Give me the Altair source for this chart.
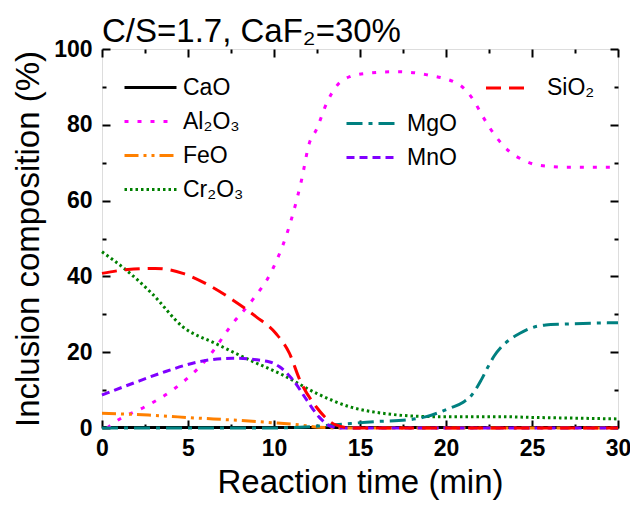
import altair as alt
import pandas as pd

FONT = "Liberation Sans"

# ---- data ----
series_names = ["CaO", "Al₂O₃", "FeO", "Cr₂O₃", "MgO", "MnO", "SiO₂"]
series_colors = ["#000000", "#FF00FF", "#FF8000", "#008000", "#008080", "#8000FF", "#FF0000"]
series_dashes = [[1, 0], [4, 9], [14, 5, 3, 5, 3, 5], [2.5, 3], [16, 6, 4, 6], [8, 5], [15, 8]]

t_cao = [0, 5, 10, 15, 20, 25, 30]
v_cao = [0.1, 0.1, 0.1, 0.1, 0.1, 0.1, 0.1]

t_al2o3 = [0.3, 0.8, 2.5, 4.1, 6.2, 7.6, 8.75, 9.9, 11.0, 11.6, 12.05, 12.45, 13.1, 13.6, 14.4,
           15.4, 17.2, 19.0, 20.8, 21.6, 22.15, 22.9, 23.7, 24.5, 25.3, 27.0, 30.0]
v_al2o3 = [0.0, 1.7, 5.6, 10.0, 18.8, 27.6, 33.8, 41.7, 54.9, 65.4, 75.1, 78.6, 86.1, 90.0, 92.7,
           93.6, 94.0, 93.1, 90.5, 86.5, 82.1, 76.9, 72.9, 70.7, 69.4, 68.8, 68.8]

t_feo = [0, 2.7, 5.6, 7.6, 9.9, 11.5, 12.6, 14, 20, 30]
v_feo = [3.9, 3.4, 2.6, 2.1, 1.4, 0.8, 0.2, 0.0, 0.0, 0.0]

t_cr2o3 = [0, 1.4, 2.9, 4.7, 6.6, 8.6, 10.5, 12.45, 14.4, 16.3, 19.2, 23.1, 25, 27.5, 30]
v_cr2o3 = [46.5, 41.7, 35.5, 26.7, 22.3, 17.9, 14.0, 9.2, 5.6, 3.9, 3.0, 3.0, 2.8, 2.6, 2.4]

t_mgo = [0, 5, 10, 11.5, 13.4, 15.9, 17.7, 18.85, 20.2, 21.0, 21.5, 22.05, 22.45, 22.8, 23.2,
         23.7, 24.3, 24.9, 25.8, 26.8, 30]
v_mgo = [0.0, 0.0, 0.0, 0.2, 0.8, 1.7, 2.1, 3.0, 5.2, 6.8, 8.7, 12.7, 16.2, 19.0, 21.3,
         23.3, 25.0, 26.3, 27.2, 27.4, 27.8]

t_mno = [0, 1.8, 3.7, 5.65, 7.6, 9.7, 10.3, 11.1, 11.9, 12.6, 13.4, 14, 20, 25, 30]
v_mno = [8.7, 11.8, 14.9, 17.5, 18.4, 17.5, 16.2, 12.7, 7.4, 3.0, 0.3, 0.0, 0.0, 0.0, 0.0]

t_sio2 = [0, 1.5, 3.1, 4.7, 6.2, 7.6, 8.95, 10.1, 10.9, 11.5, 12.45, 13.6, 14.5, 20, 25, 30]
v_sio2 = [40.8, 41.8, 42.1, 40.8, 37.7, 33.8, 29.4, 25.0, 19.7, 12.7, 5.6, 0.8, 0.0, 0.0, 0.0, 0.0]

x_major = [0, 5, 10, 15, 20, 25, 30]
x_minor = [2.5, 7.5, 12.5, 17.5, 22.5, 27.5]
y_major = [0, 20, 40, 60, 80, 100]
y_minor = [10, 30, 50, 70, 90]

# ---- build table ----
all_t = [t_cao, t_al2o3, t_feo, t_cr2o3, t_mgo, t_mno, t_sio2]
all_v = [v_cao, v_al2o3, v_feo, v_cr2o3, v_mgo, v_mno, v_sio2]
rows = []
for name, ts, vs in zip(series_names, all_t, all_v):
    for t, v in zip(ts, vs):
        rows.append({"series": name, "t": t, "v": v})
df = pd.DataFrame(rows)

style = {n: (c, d) for n, c, d in zip(series_names, series_colors, series_dashes)}

xscale = alt.Scale(domain=[0, 30], nice=False, zero=False)
yscale = alt.Scale(domain=[0, 100], nice=False, zero=False)


def inward_axis(orient, values, size):
    return alt.Axis(orient=orient, values=values, offset=-size, tickSize=size, tickWidth=2,
                    tickColor="black", labels=False, domain=False, grid=False, title=None)


x_label_axis = alt.Axis(orient="bottom", values=x_major, ticks=False, domain=False, grid=False,
                        labelFont=FONT, labelFontSize=23, labelFontWeight="bold", labelColor="black",
                        labelPadding=9, labelFlush=False, title="Reaction time (min)", titleFont=FONT,
                        titleFontSize=33, titleFontWeight="normal", titleColor="black", titlePadding=6)
y_label_axis = alt.Axis(orient="left", values=y_major, ticks=False, domain=False, grid=False,
                        labelFont=FONT, labelFontSize=23, labelFontWeight="bold", labelColor="black",
                        labelPadding=10, labelFlush=False, title="Inclusion composition (%)",
                        titleFont=FONT, titleFontSize=33, titleFontWeight="normal", titleColor="black",
                        titlePadding=8)


def make_legend(x, y, half_len, offset):
    # custom path twice as long as the symbol box so the rows can sit close together
    return alt.Legend(title=None, orient="none", legendX=x, legendY=y, symbolType="M-2,0H2",
                      symbolSize=half_len * half_len, symbolStrokeWidth=3,
                      symbolFillColor="transparent", labelFont=FONT,
                      labelFontSize=23, labelColor="black", rowPadding=7,
                      labelOffset=offset, padding=0)


def line_layer(names, legend, xaxis, yaxis):
    d = df[df["series"].isin(names)]
    cols = [style[n][0] for n in names]
    dsh = [style[n][1] for n in names]
    return alt.Chart(d).mark_line(strokeWidth=3, interpolate="monotone").encode(
        x=alt.X("t:Q", scale=xscale, axis=xaxis),
        y=alt.Y("v:Q", scale=yscale, axis=yaxis),
        color=alt.Color("series:N", scale=alt.Scale(domain=names, range=cols), legend=legend,
                        sort=names),
        strokeDash=alt.StrokeDash("series:N", scale=alt.Scale(domain=names, range=dsh),
                                  legend=legend, sort=names),
    )


col1 = ["CaO", "Al₂O₃", "FeO", "Cr₂O₃"]
col2 = ["MgO", "MnO"]
col3 = ["SiO₂"]

L1 = line_layer(col1, make_legend(34, 24, 26, 18), x_label_axis, y_label_axis)
L2 = line_layer(col2, make_legend(256, 60, 26, 20), inward_axis("bottom", x_major, 8),
                inward_axis("left", y_major, 8))
L3 = line_layer(col3, make_legend(393, 27, 21, 28), inward_axis("bottom", x_minor, 4),
                inward_axis("left", y_minor, 4))

base = df[df["series"] == "CaO"]
L4 = alt.Chart(base).mark_line(opacity=0).encode(
    x=alt.X("t:Q", scale=xscale, axis=inward_axis("top", x_major, 8)),
    y=alt.Y("v:Q", scale=yscale, axis=inward_axis("right", y_major, 8)),
)
L5 = alt.Chart(base).mark_line(opacity=0).encode(
    x=alt.X("t:Q", scale=xscale, axis=inward_axis("top", x_minor, 4)),
    y=alt.Y("v:Q", scale=yscale, axis=inward_axis("right", y_minor, 4)),
)

chart = (
    alt.layer(L1, L2, L3, L4, L5)
    .resolve_scale(color="independent", strokeDash="independent")
    .resolve_axis(x="independent", y="independent")
    .resolve_legend(color="independent", strokeDash="independent")
    .properties(
        width=516, height=379,
        padding={"left": 102, "top": 49, "right": 12, "bottom": 77},
        autosize=alt.AutoSizeParams(type="none"),
        title=alt.Title("C/S=1.7, CaF₂=30%", anchor="start", frame="group", font=FONT,
                        fontSize=33, fontWeight="normal", color="black", offset=7,
                        baseline="alphabetic", dy=44),
    )
    .configure_view(stroke="black", strokeWidth=2)
    .configure(background="white")
)

chart.save("out.html", embed_options={"renderer": "svg", "actions": False})
